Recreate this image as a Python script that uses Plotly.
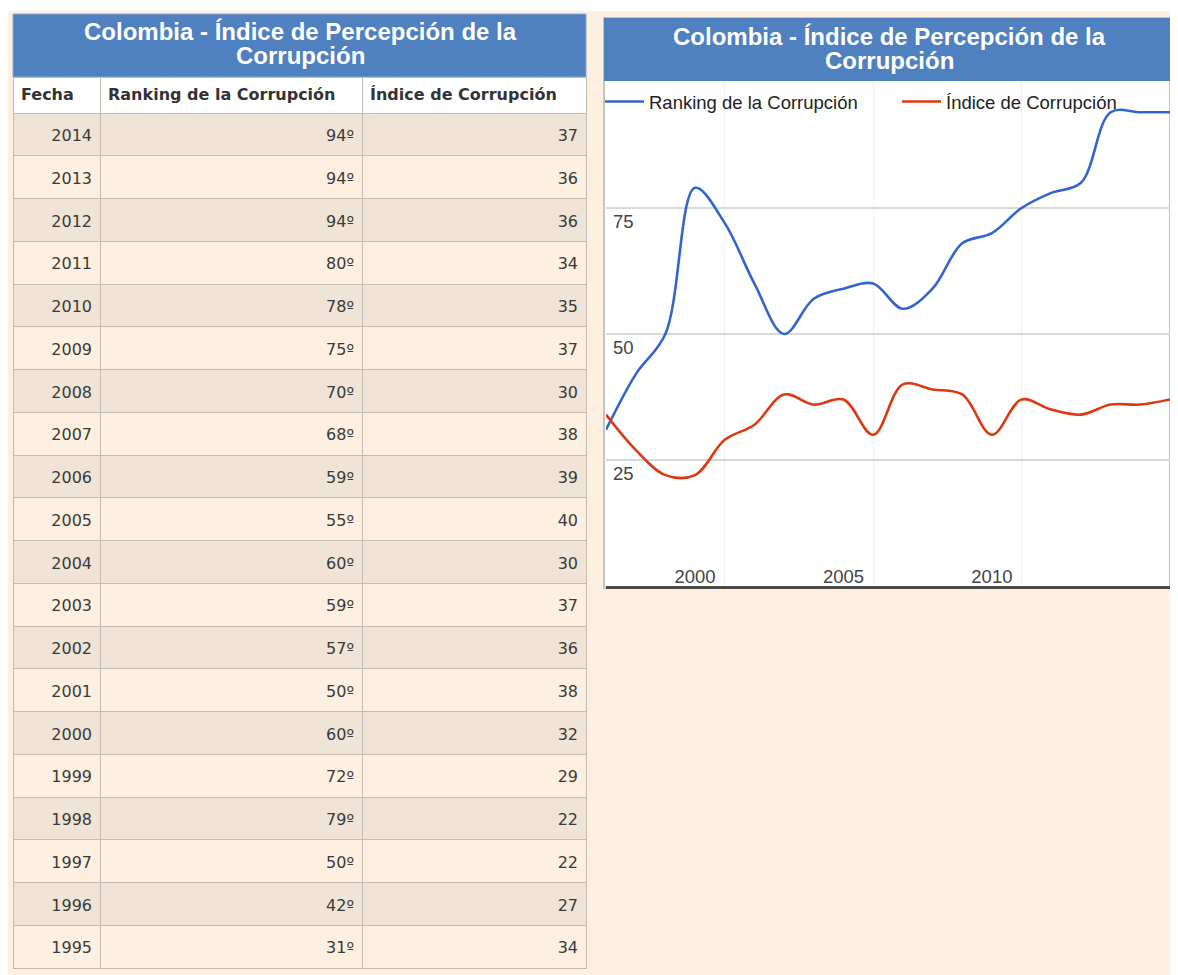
import plotly.graph_objects as go

# ---------------- data ----------------
years = [2014, 2013, 2012, 2011, 2010, 2009, 2008, 2007, 2006, 2005,
         2004, 2003, 2002, 2001, 2000, 1999, 1998, 1997, 1996, 1995]
ranking = [94, 94, 94, 80, 78, 75, 70, 68, 59, 55,
           60, 59, 57, 50, 60, 72, 79, 50, 42, 31]
indice = [37, 36, 36, 34, 35, 37, 30, 38, 39, 40,
          30, 37, 36, 38, 32, 29, 22, 22, 27, 34]

column_names = ["Fecha", "Ranking de la Corrupción", "Índice de Corrupción"]
title_lines = ["Colombia - Índice de Percepción de la", "Corrupción"]

# x-axis labels as printed on the chart and where they sit
x_tick_vals = [1998, 2003, 2008]
x_tick_text = ["2000", "2005", "2010"]
x_grid_vals = [1999, 2004, 2009]
y_tick_vals = [25, 50, 75]

# ---------------- styling ----------------
OFF = 8                      # page margin of the html body
W, H = 1178 - 2 * OFF, 975 - OFF
PEACH = "#FDF0E0"
ROW_DARK = "#EFE4D5"
BLUE_BAND = "#4F80C0"
BLUE = "#3366CC"
RED = "#DC3912"
GRID_LINE = "#C3BCB2"
FONT_T = "DejaVu Sans"
FONT_C = "Liberation Sans, Arial"
ROW_H = 42.75
COL_W = [87, 262, 224]
TRANSPARENT = "rgba(0,0,0,0)"


def px(x):
    return min(1.0, max(0.0, (x - OFF) / W))


def py(y):
    return min(1.0, max(0.0, 1 - (y - OFF) / H))


fig = go.Figure()

# ---------------- table: grid, fills and header ----------------
n = len(years)
row_fill = [ROW_DARK if i % 2 == 0 else PEACH for i in range(n)]
fig.add_trace(go.Table(
    domain=dict(x=[px(13), px(586)], y=[0, py(77)]),
    columnwidth=COL_W,
    header=dict(
        values=[f"<b>{c}</b>" for c in column_names],
        fill_color="white",
        align="left",
        font=dict(family=FONT_T, size=16, color="#333333"),
        height=36,
        line=dict(color=GRID_LINE, width=1),
    ),
    cells=dict(
        values=[[""] * n, [""] * n, [""] * n],
        fill_color=[row_fill, row_fill, row_fill],
        height=ROW_H,
        line=dict(color=GRID_LINE, width=1),
    ),
))

# ---------------- table: cell texts (centred vertically in the rows) ----------------
fig.add_trace(go.Table(
    domain=dict(x=[px(13), px(586)], y=[0, py(105)]),
    columnwidth=COL_W,
    header=dict(values=[], fill_color=TRANSPARENT, line=dict(color=TRANSPARENT, width=0)),
    cells=dict(
        values=[[str(y) for y in years],
                [f"{v}º" for v in ranking],
                [str(v) for v in indice]],
        fill_color=TRANSPARENT,
        align="right",
        font=dict(family=FONT_T, size=16, color="#3A3A3A"),
        height=ROW_H,
        line=dict(color=TRANSPARENT, width=0),
    ),
))

# ---------------- line chart ----------------
chart_years = years[::-1]
fig.add_trace(go.Scatter(
    x=chart_years, y=ranking[::-1], mode="lines",
    name="Ranking de la Corrupción",
    line=dict(color=BLUE, width=2.6, shape="spline", smoothing=1),
    legend="legend",
))
fig.add_trace(go.Scatter(
    x=chart_years, y=indice[::-1], mode="lines",
    name="Índice de Corrupción",
    line=dict(color=RED, width=2.6, shape="spline", smoothing=1),
    legend="legend2",
))

shapes = [
    # white strip at the top of the page
    dict(type="rect", xref="paper", yref="paper", x0=0, x1=1, y0=py(11), y1=1,
         fillcolor="white", line=dict(width=0), layer="below"),
    # table title band
    dict(type="rect", xref="paper", yref="paper", x0=px(13), x1=px(586), y0=py(77), y1=py(14),
         fillcolor=BLUE_BAND, line=dict(color="#8FA9CF", width=1), layer="below"),
    # chart container
    dict(type="rect", xref="paper", yref="paper", x0=px(604), x1=px(1174), y0=py(588), y1=py(18),
         fillcolor="white", line=dict(color="#C4C4C4", width=2), layer="below"),
    dict(type="rect", xref="paper", yref="paper", x0=px(604), x1=px(1174), y0=py(81), y1=py(18),
         fillcolor=BLUE_BAND, line=dict(width=0), layer="below"),
]

title_font = dict(family=FONT_C, size=24, color="white", weight="bold")
annotations = []
for cx, top in ((300, 31), (889, 36)):
    for i, line in enumerate(title_lines):
        annotations.append(dict(
            text=line, xref="paper", yref="paper", x=px(cx), y=py(top + 25 * i),
            xanchor="center", yanchor="middle", showarrow=False, font=title_font,
        ))

legend_common = dict(
    orientation="h", xanchor="left", yanchor="middle",
    font=dict(family=FONT_C, size=18.5, color="#222222"),
    bgcolor=TRANSPARENT, itemwidth=39, borderwidth=0,
)

fig.update_layout(
    width=W, height=H,
    margin=dict(l=0, r=0, t=0, b=0, autoexpand=False),
    paper_bgcolor=PEACH,
    plot_bgcolor="white",
    shapes=shapes,
    annotations=annotations,
    showlegend=True,
    legend=dict(x=px(600), y=py(102), **legend_common),
    legend2=dict(x=px(897), y=py(102), **legend_common),
    xaxis=dict(
        domain=[px(606), px(1172)], range=[1995, 2014],
        tickvals=x_tick_vals, ticktext=x_tick_text,
        ticklabelposition="inside", ticks="",
        tickfont=dict(family=FONT_C, size=18.5, color="#444444"),
        showgrid=False, zeroline=False,
        showline=True, linecolor="#4A4A4A", linewidth=2.5,
        minor=dict(tickvals=x_grid_vals, showgrid=True, gridcolor="#F1F1F1", gridwidth=1, ticks=""),
        fixedrange=True,
    ),
    yaxis=dict(
        domain=[py(586), py(82)], range=[0, 100],
        tickvals=y_tick_vals,
        ticklabelposition="inside", ticks="", ticklabelshift=14, ticklabelstandoff=4,
        tickfont=dict(family=FONT_C, size=18.5, color="#444444"),
        showgrid=True, gridcolor="#D8D8D8", gridwidth=1.6,
        zeroline=False, showline=False,
        fixedrange=True,
    ),
)

fig.write_html("out.html")
